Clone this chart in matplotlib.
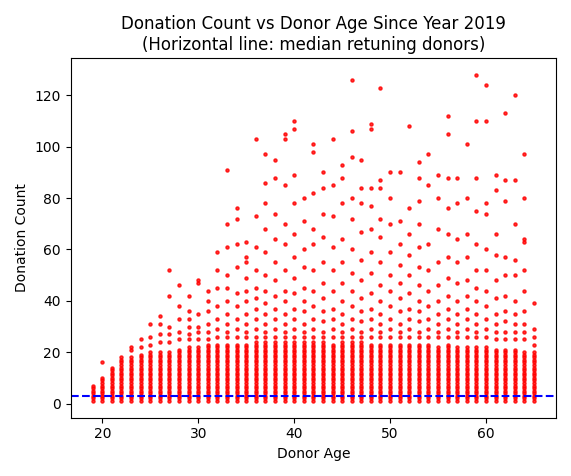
import matplotlib.pyplot as plt

# ages and the top of the solid column of counts at each age
ages = list(range(19, 66))
column_top = [7, 10, 14, 17, 18, 19, 20, 20, 20, 21, 22, 22, 23, 23, 23, 23, 23, 24,
              24, 24, 24, 24, 24, 24, 24, 23, 24, 24, 24, 23, 23, 23, 23, 23, 23, 23,
              22, 23, 22, 22, 22, 22, 21, 21, 21, 20, 20]

# scattered counts above the solid column, per age
extra = {
    20: [16], 21: [], 22: [18], 23: [21, 22], 24: [22, 25], 25: [23, 26, 31],
    26: [24, 27, 31, 34], 27: [24, 27, 30, 42, 52], 28: [25, 28, 33, 38, 46],
    29: [25, 27, 30, 33, 36, 42], 30: [25, 28, 30, 35, 47, 48],
    31: [25, 28, 31, 36, 40, 44], 32: [26, 29, 33, 38, 45, 52, 59],
    33: [26, 28, 31, 35, 40, 45, 50, 61, 70, 91], 34: [26, 29, 33, 38, 43, 53, 62, 72, 76],
    35: [26, 28, 31, 35, 40, 44, 49, 55, 57, 63], 36: [26, 29, 33, 37, 41, 45, 52, 61, 73, 103],
    37: [26, 28, 31, 35, 39, 44, 50, 59, 68, 78, 86, 97], 38: [26, 29, 33, 37, 42, 48, 55, 64, 74, 88, 95],
    39: [26, 28, 31, 35, 40, 44, 52, 62, 70, 85, 103, 105], 40: [26, 29, 33, 37, 43, 49, 57, 66, 78, 89, 107, 110],
    41: [26, 28, 31, 36, 40, 45, 53, 60, 71, 80], 42: [26, 29, 33, 38, 44, 52, 62, 68, 82, 98, 101],
    43: [26, 28, 32, 36, 41, 47, 55, 65, 74, 84, 90], 44: [26, 29, 33, 37, 44, 52, 61, 73, 85, 103],
    45: [26, 28, 31, 35, 40, 47, 55, 64, 78, 88, 93], 46: [26, 29, 33, 38, 44, 51, 60, 72, 80, 96, 106, 126],
    47: [26, 28, 32, 36, 41, 48, 56, 67, 78, 84, 95], 48: [26, 29, 33, 37, 43, 51, 59, 68, 77, 84, 107, 109],
    49: [26, 28, 31, 35, 40, 46, 55, 65, 72, 84, 87, 123], 50: [26, 29, 33, 38, 44, 50, 59, 70, 80, 90],
    51: [26, 28, 31, 36, 41, 47, 54, 62, 71, 90], 52: [26, 29, 33, 37, 43, 50, 58, 66, 76, 108],
    53: [26, 28, 32, 36, 40, 46, 53, 61, 70, 79, 88, 94], 54: [26, 29, 33, 38, 44, 52, 62, 85, 97],
    55: [26, 28, 31, 35, 40, 46, 55, 68, 80, 89], 56: [26, 29, 33, 37, 42, 49, 57, 66, 76, 88, 105, 112],
    57: [26, 28, 31, 35, 40, 47, 55, 64, 78, 88], 58: [26, 29, 33, 37, 42, 48, 57, 66, 80, 101],
    59: [26, 28, 31, 35, 40, 45, 52, 62, 75, 88, 110, 128], 60: [26, 29, 33, 38, 44, 52, 60, 74, 78, 110, 124],
    61: [25, 28, 31, 35, 41, 48, 58, 66, 83, 89], 62: [25, 28, 32, 36, 42, 50, 57, 79, 87, 113],
    63: [25, 28, 31, 35, 40, 50, 56, 70, 87, 120], 64: [25, 28, 31, 36, 44, 52, 63, 64, 80, 97],
    65: [23, 26, 29, 39],
}
median_returning = 3

xs, ys = [], []
for age, top in zip(ages, column_top):
    for c in range(1, top + 1):
        xs.append(age)
        ys.append(c)
    for c in extra.get(age, []):
        xs.append(age)
        ys.append(c)

fig = plt.figure(figsize=(5.71, 4.76), dpi=100)
plt.scatter(xs, ys, s=5, color="red", alpha=0.8)
plt.axhline(median_returning, color="blue", linestyle="--")
plt.xlabel("Donor Age")
plt.ylabel("Donation Count")
plt.title("Donation Count vs Donor Age Since Year 2019\n(Horizontal line: median retuning donors)")
plt.xlim(16.7, 67.3)
plt.ylim(-5.5, 134.5)
plt.tight_layout()
plt.savefig("out.png")
